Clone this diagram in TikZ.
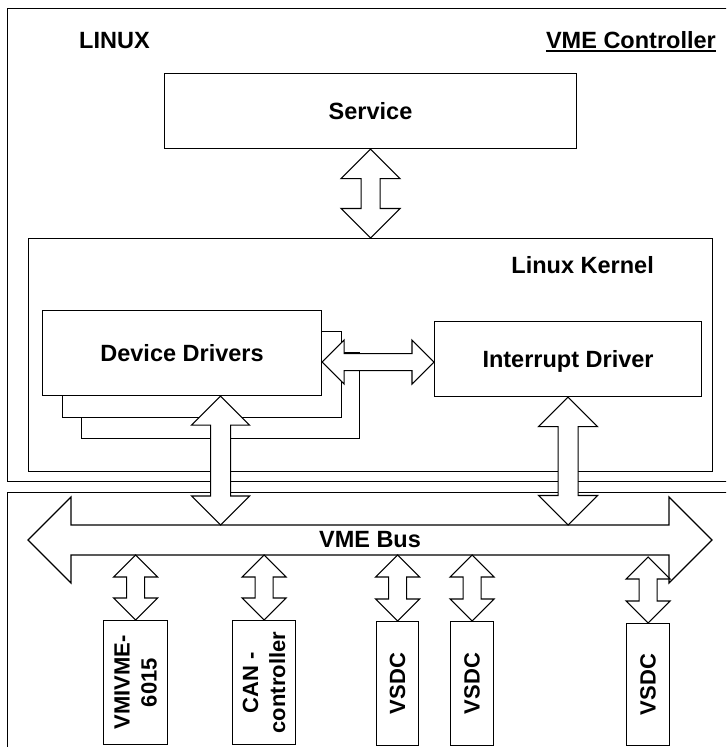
\documentclass[tikz,border=0pt]{standalone}
\usepackage{fontspec}
\setmainfont{Liberation Sans}
\usetikzlibrary{calc}
\tikzset{
  ln/.style={line width=1.1pt, draw=black},
  frame/.style={ln, fill=white, inner sep=0pt, anchor=north west},
  boxtxt/.style={frame, font=\bfseries\fontsize{23.5}{28}\selectfont, text height=16.8pt, text depth=0pt},
  lbl/.style={font=\bfseries\fontsize{23.5}{28}\selectfont, inner sep=0pt},
  vlbl/.style={font=\bfseries\fontsize{22}{27}\selectfont, inner sep=0pt, rotate=90, align=center},
  blockarrow/.style={ln, fill=white, line join=miter}
}
\newcommand\vdarrow[4]{%
  \path[blockarrow] let \p1=(#1), \p2=(#2) in
    (\x1,\y1) -- (\x1+#4pt,\y1-#4pt) -- (\x1+#3pt,\y1-#4pt) -- (\x1+#3pt,\y2+#4pt)
    -- (\x1+#4pt,\y2+#4pt) -- (\x1,\y2) -- (\x1-#4pt,\y2+#4pt) -- (\x1-#3pt,\y2+#4pt)
    -- (\x1-#3pt,\y1-#4pt) -- (\x1-#4pt,\y1-#4pt) -- cycle;}
\newcommand\hdarrow[4]{%
  \path[blockarrow] let \p1=(#1), \p2=(#2) in
    (\x1,\y1) -- (\x1+#4pt,\y1+#4pt) -- (\x1+#4pt,\y1+#3pt) -- (\x2-#4pt,\y1+#3pt)
    -- (\x2-#4pt,\y1+#4pt) -- (\x2,\y1) -- (\x2-#4pt,\y1-#4pt) -- (\x2-#4pt,\y1-#3pt)
    -- (\x1+#4pt,\y1-#3pt) -- (\x1+#4pt,\y1-#4pt) -- cycle;}
\begin{document}
\begin{tikzpicture}[x=1pt,y=-1pt]
\useasboundingbox (0,0) rectangle (726,747);
\clip (0,0) rectangle (726,747);
% outer frames
\node[frame, minimum width=740pt, minimum height=473pt] (ctrl) at (7,8) {};
\node[frame, minimum width=740pt, minimum height=280pt] (vme) at (7,492) {};
\node[lbl, anchor=base west] (linux) at (79,48) {LINUX};
\node[lbl, anchor=base east] (vmec) at (716,48) {VME Controller};
\draw[line width=1.6pt] ([yshift=-2.8pt]vmec.base west) -- ([yshift=-2.8pt]vmec.base east);
% service and kernel
\node[boxtxt, minimum width=412pt, minimum height=75pt] (service) at (164,73) {Service};
\node[frame, minimum width=684pt, minimum height=233pt] (kernel) at (28,238) {};
\node[lbl, anchor=base east] (kerneltxt) at (654,273) {Linux Kernel};
% device drivers stack
\node[frame, minimum width=278pt, minimum height=86pt] (dd3) at (81,352) {};
\node[frame, minimum width=279pt, minimum height=86pt] (dd2) at (62,331) {};
\node[boxtxt, minimum width=279pt, minimum height=85pt] (dd1) at (42,310) {Device Drivers};
\node[boxtxt, minimum width=267pt, minimum height=75pt] (intr) at (434,321) {Interrupt Driver};
% arrows inside controller
\vdarrow{service.south}{kernel.north}{9.5}{29.5}
\path (dd1.east) ++(0,9) coordinate (hA);
\hdarrow{hA}{hA -| intr.west}{8.5}{22}
% VME bus
\coordinate (busL) at (28,540);
\coordinate (busR) at (712,540);
\coordinate (busT) at (370,525);
\coordinate (busB) at (370,555);
\hdarrow{busL}{busR}{15}{43}
\node[lbl] (bustxt) at (370,540) {VME Bus};
\path (dd1.south) ++(38.5,0) coordinate (ddA);
\vdarrow{ddA}{ddA |- busT}{10}{29}
\vdarrow{intr.south}{intr.south |- busT}{10}{29.5}
% devices
\node[frame, minimum width=64pt, minimum height=124pt] (vmi) at (103,620) {};
\node[frame, minimum width=63pt, minimum height=124pt] (can) at (232,620) {};
\node[frame, minimum width=42pt, minimum height=124pt] (vsdcA) at (376,621) {};
\node[frame, minimum width=43pt, minimum height=124pt] (vsdcB) at (450,621) {};
\node[frame, minimum width=43pt, minimum height=122pt] (vsdcC) at (626,623) {};
\node[vlbl] (vmitxt) at (vmi.center) {VMIVME-\\6015};
\node[vlbl] (cantxt) at (can.center) {CAN -\\controller};
\node[vlbl] (vsdcAtxt) at (vsdcA.center) {VSDC};
\node[vlbl] (vsdcBtxt) at (vsdcB.center) {VSDC};
\node[vlbl] (vsdcCtxt) at (vsdcC.center) {VSDC};
\vdarrow{vmi.north |- busB}{vmi.north}{9}{22}
\vdarrow{can.north |- busB}{can.north}{9}{22}
\vdarrow{vsdcA.north |- busB}{vsdcA.north}{9}{22}
\vdarrow{vsdcB.north |- busB}{vsdcB.north}{9}{22}
\path (vsdcC.north) ++(0,-66) coordinate (vC);
\vdarrow{vC}{vsdcC.north}{9}{22}
\end{tikzpicture}
\end{document}
